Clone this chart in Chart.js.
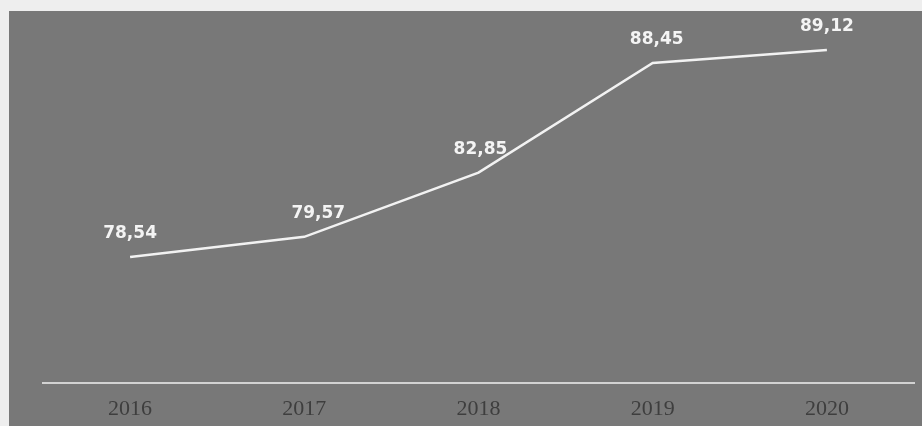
<!DOCTYPE html>
<html>
<head>
<meta charset="utf-8">
<script src="https://cdn.jsdelivr.net/npm/chart.js@4/dist/chart.umd.min.js"></script>
<style>
  html, body { margin: 0; padding: 0; background: #eeeeee; }
  #wrap { width: 922px; height: 426px; position: relative; }
</style>
</head>
<body>
<div id="wrap"><canvas id="c" width="922" height="426"></canvas></div>
<script>
// Years on the horizontal axis
const years = ['2016', '2017', '2018', '2019', '2020'];
// Indicator value per year
const values = [78.54, 79.57, 82.85, 88.45, 89.12];
// Labels written above each point (decimal comma)
const valueLabels = ['78,54', '79,57', '82,85', '88,45', '89,12'];

// Grey panel painted behind the plot
const panelBackground = {
  id: 'panelBackground',
  beforeDraw(chart) {
    const ctx = chart.ctx;
    ctx.save();
    ctx.fillStyle = '#eeeeee';
    ctx.fillRect(0, 0, chart.width, chart.height);
    ctx.fillStyle = '#787878';
    ctx.fillRect(9, 11, chart.width - 9, chart.height - 11);
    ctx.restore();
  }
};

// Value text above each point of the line
const pointValues = {
  id: 'pointValues',
  afterDatasetsDraw(chart) {
    const ctx = chart.ctx;
    const meta = chart.getDatasetMeta(0);
    ctx.save();
    ctx.font = 'bold 17px "DejaVu Sans"';
    ctx.fillStyle = '#f4f4f4';
    ctx.textAlign = 'center';
    ctx.textBaseline = 'middle';
    const shifts = [0, 14, 2, 4, 0];
    meta.data.forEach((pt, i) => {
      ctx.fillText(valueLabels[i], pt.x + shifts[i], pt.y - 23);
    });
    ctx.restore();
  }
};

new Chart(document.getElementById('c'), {
  type: 'line',
  data: {
    labels: years,
    datasets: [{
      data: values,
      borderColor: '#f2f2f2',
      borderWidth: 2.5,
      pointRadius: 0,
      tension: 0,
      fill: false
    }]
  },
  options: {
    responsive: false,
    animation: false,
    events: [],
    layout: { padding: { left: 43, right: 8, top: 10, bottom: 0 } },
    plugins: { legend: { display: false }, tooltip: { enabled: false } },
    scales: {
      x: {
        offset: true,
        grid: { display: false },
        border: { display: true, color: '#d2d2d2', width: 2 },
        ticks: {
          color: '#3e3e3e',
          font: { family: '"Liberation Serif"', size: 22 },
          padding: 5
        },
        afterFit(scale) { scale.height = 43; }
      },
      y: {
        display: false,
        min: 72.1,
        max: 91.16
      }
    }
  },
  plugins: [panelBackground, pointValues]
});
</script>
</body>
</html>
